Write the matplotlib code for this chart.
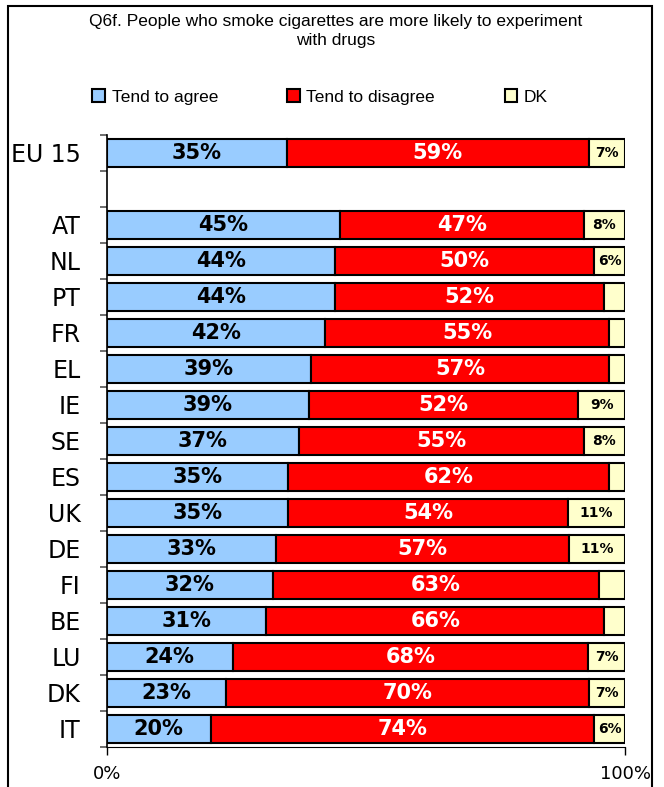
import numpy as np
import matplotlib

matplotlib.use("Agg")
import matplotlib.pyplot as plt
from matplotlib.patches import Rectangle

# Q6f data, EU 15 first then countries (top to bottom)
countries = ["EU 15", "AT", "NL", "PT", "FR", "EL", "IE", "SE", "ES",
             "UK", "DE", "FI", "BE", "LU", "DK", "IT"]
agree = [35, 45, 44, 44, 42, 39, 39, 37, 35, 35, 33, 32, 31, 24, 23, 20]
disagree = [59, 47, 50, 52, 55, 57, 52, 55, 62, 54, 57, 63, 66, 68, 70, 74]
dk = [7, 8, 6, 4, 3, 3, 9, 8, 3, 11, 11, 5, 4, 7, 7, 6]
series_names = ["Tend to agree", "Tend to disagree", "DK"]
colors = ["#99CCFF", "#FF0000", "#FFFFCC"]

agree = np.array(agree, dtype=float)
disagree = np.array(disagree, dtype=float)
dk = np.array(dk, dtype=float)
total = agree + disagree + dk
# 100% stacked: shares of the row total
a_s = agree / total * 100
d_s = disagree / total * 100
k_s = dk / total * 100

# y slots: EU 15 on top, one empty slot, then the countries
n = len(countries)
ypos = np.array([n] + list(range(n - 2, -1, -1)), dtype=float)

fig = plt.figure(figsize=(6.64, 7.87), dpi=100)
ax = fig.add_axes([107 / 664, 1 - 747 / 787, 518 / 664, 612 / 787])

h = 0.77
kw = dict(height=h, edgecolor="black", linewidth=1.5)
b1 = ax.barh(ypos, a_s, color=colors[0], label=series_names[0], **kw)
b2 = ax.barh(ypos, d_s, left=a_s, color=colors[1], label=series_names[1], **kw)
b3 = ax.barh(ypos, k_s, left=a_s + d_s, color=colors[2], label=series_names[2], **kw)

for i, y in enumerate(ypos):
    ax.text(a_s[i] / 2, y, f"{agree[i]:.0f}%", ha="center", va="center",
            fontsize=15, fontweight="bold", color="black")
    ax.text(a_s[i] + d_s[i] / 2, y, f"{disagree[i]:.0f}%", ha="center",
            va="center", fontsize=15, fontweight="bold", color="white")
    if dk[i] >= 6:
        ax.text(a_s[i] + d_s[i] + k_s[i] / 2, y, f"{dk[i]:.0f}%", ha="center",
                va="center", fontsize=10, fontweight="bold", color="black")

ax.set_xlim(0, 100)
ax.set_ylim(-0.5, n + 0.5)
ax.set_yticks(ypos)
ax.set_yticklabels(countries, fontsize=17)
ax.set_yticks(np.arange(-0.5, n + 1, 1.0), minor=True)
ax.tick_params(axis="y", which="major", length=0, pad=19)
ax.tick_params(axis="y", which="minor", length=5, width=1.2, color="#555555")
ax.set_xticks([0, 100])
ax.set_xticklabels(["0%", "100%"], fontsize=13)
ax.tick_params(axis="x", length=6, width=1, pad=7)
for s in ["top", "right"]:
    ax.spines[s].set_visible(False)
ax.spines["left"].set_linewidth(1.2)
ax.spines["bottom"].set_linewidth(0.8)

fig.text(0.505, 1 - 14 / 787,
         "Q6f. People who smoke cigarettes are more likely to experiment\nwith drugs",
         ha="center", va="top", fontsize=12.5, family="Liberation Sans",
         linespacing=1.3)

fig.legend(handles=[b1, b2, b3], labels=series_names, loc="center",
           bbox_to_anchor=(0.482, 1 - 97 / 787), ncol=3, frameon=False,
           prop={"family": "Liberation Sans", "size": 12.5},
           handlelength=0.7, handleheight=0.7, handletextpad=0.4,
           columnspacing=4.0)

# outer frame
fig.add_artist(Rectangle((8 / 664, -0.05), 644 / 664, 1.05 - 6 / 787,
                         transform=fig.transFigure, fill=False,
                         edgecolor="black", linewidth=1.5))

fig.savefig("out.png", dpi=100)
